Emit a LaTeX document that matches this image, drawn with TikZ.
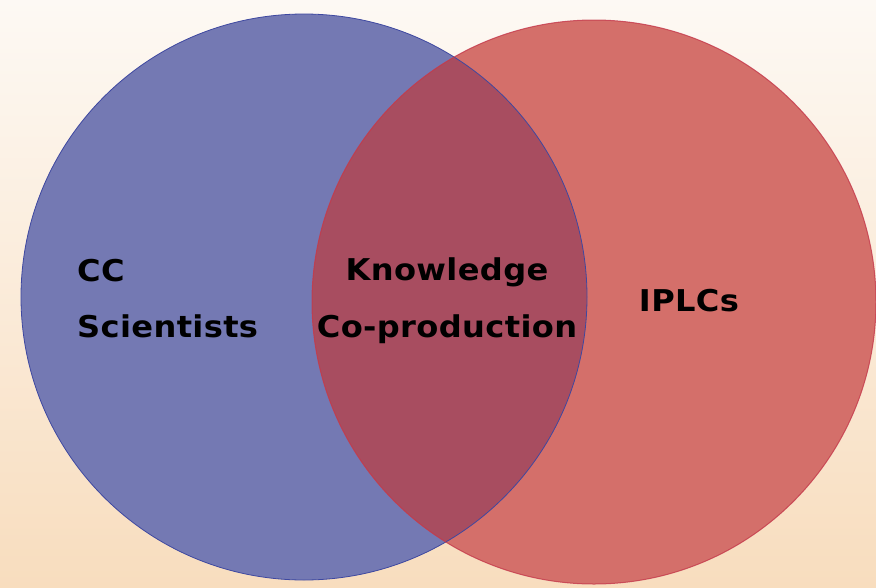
\documentclass[tikz,border=0pt]{standalone}
\usepackage{fontspec}
\setmainfont{DejaVu Sans}
\newfontfamily\lblfont[FakeStretch=1.07,LetterSpace=1.2]{DejaVu Sans}
\definecolor{bgtop}{HTML}{FDF9F4}
\definecolor{bgbot}{HTML}{F8DDBE}
\definecolor{blueF}{HTML}{7479B3}
\definecolor{blueD}{HTML}{3E48A0}
\definecolor{redF}{HTML}{D46F6A}
\definecolor{redD}{HTML}{C4384A}
\definecolor{overF}{HTML}{A84D60}
\begin{document}
\begin{tikzpicture}[x=1pt,y=-1pt,
  lbl/.style={font=\lblfont\bfseries\fontsize{30}{36}\selectfont, text=black, inner sep=0pt}]
\shade[top color=bgtop, bottom color=bgbot] (0,0) rectangle (876,587);
\useasboundingbox (0,0) rectangle (876,587);
\coordinate (cl) at (304,297);
\coordinate (cr) at (594,302);
\fill[blueF] (cl) circle (283);
\fill[redF] (cr) circle (282);
\begin{scope}
  \clip (cl) circle (283);
  \fill[overF] (cr) circle (282);
\end{scope}
\draw[blueD, line width=0.8pt] (cl) circle (283);
\draw[redD, line width=1pt, draw opacity=0.8] (cr) circle (282);
\node[lbl, anchor=base west] (cc) at (77,281) {CC};
\node[lbl, anchor=base west] (sci) at (77,337) {Scientists};
\node[lbl, anchor=base] (kn) at (447,280) {Knowledge};
\node[lbl, anchor=base] (cop) at (447,337) {Co-production};
\node[lbl, anchor=base] (ip) at (689,311) {IPLCs};
\end{tikzpicture}
\end{document}
